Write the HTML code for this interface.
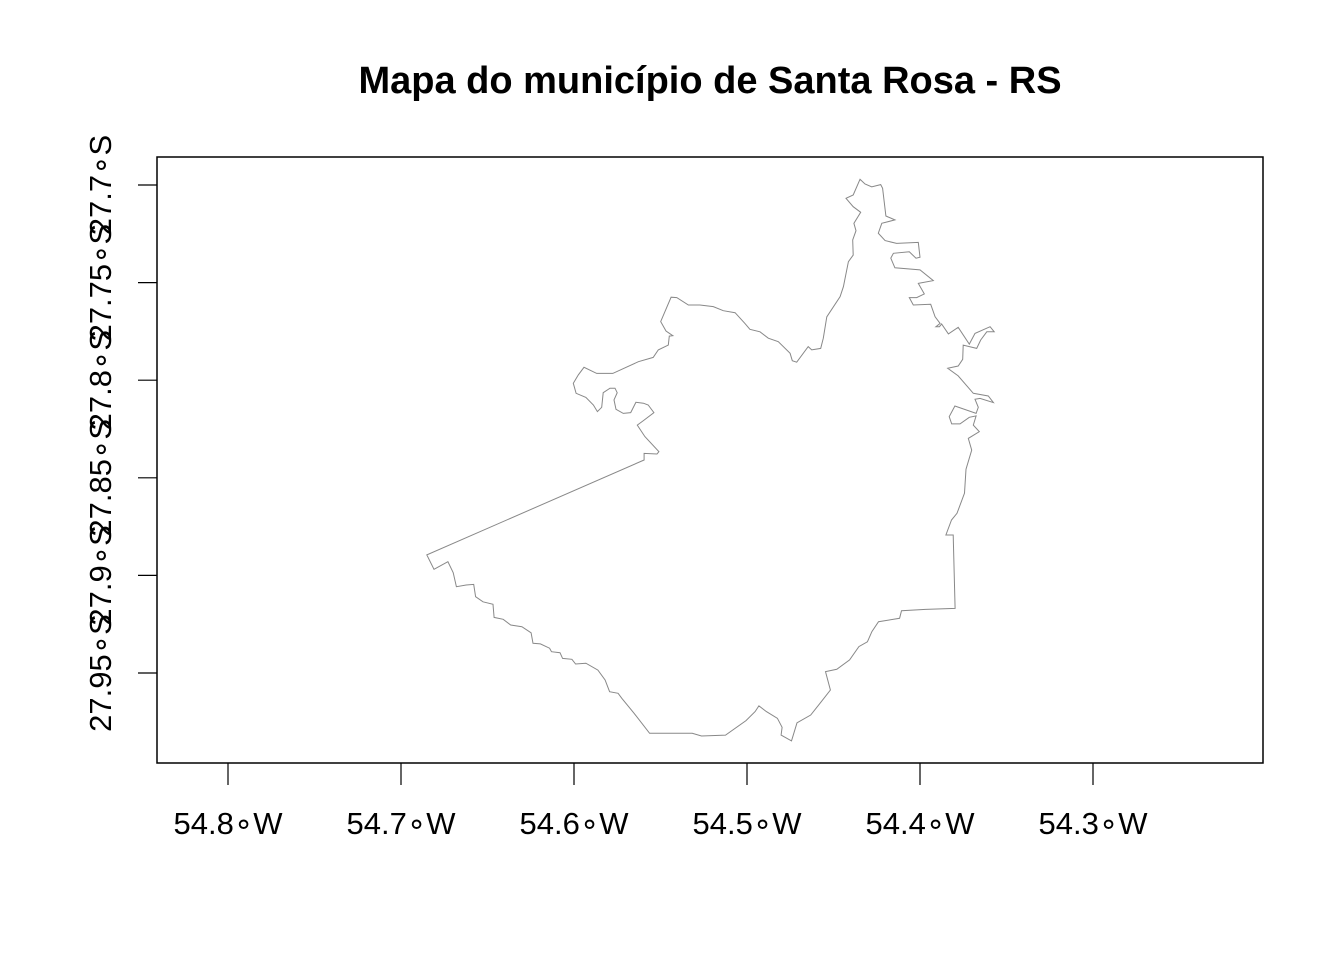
<!DOCTYPE html>
<html><head><meta charset="utf-8"><style>
html,body{margin:0;padding:0;background:#fff;}
svg{display:block;font-family:"Liberation Sans",Arial,sans-serif;}
</style></head><body>
<svg id="chart" width="1344" height="960" viewBox="0 0 1344 960" xmlns="http://www.w3.org/2000/svg">
<rect width="1344" height="960" fill="#fff"/>
<text x="710" y="93" text-anchor="middle" font-size="38" font-weight="bold">Mapa do município de Santa Rosa - RS</text>
<rect x="157" y="157" width="1106" height="606" fill="none" stroke="#000" stroke-width="1.5"/>
<g id="xaxis"></g>
<g id="yaxis"></g>
<path id="boundary" fill="none" stroke="#888" stroke-width="1"/>
</svg>
<script>
const xTicks=[-54.8,-54.7,-54.6,-54.5,-54.4,-54.3];
const xTickLabels=["54.8\u2218W","54.7\u2218W","54.6\u2218W","54.5\u2218W","54.4\u2218W","54.3\u2218W"];
const yTicks=[-27.7,-27.75,-27.8,-27.85,-27.9,-27.95];
const yTickLabels=["27.7\u2218S","27.75\u2218S","27.8\u2218S","27.85\u2218S","27.9\u2218S","27.95\u2218S"];
const lonW=[54.4347,54.4318,54.4279,54.4227,54.4216,54.4197,54.4145,54.4221,54.4241,54.4202,54.4135,54.4010,54.4000,54.4023,54.4062,54.4154,54.4169,54.4145,54.4000,54.3923,54.4010,54.3975,54.4019,54.4062,54.4039,54.3938,54.3913,54.3884,54.3908,54.3888,54.3875,54.3836,54.3779,54.3715,54.3682,54.3595,54.3571,54.3614,54.3649,54.3672,54.3750,54.3753,54.3779,54.3840,54.3779,54.3692,54.3605,54.3576,54.3653,54.3682,54.3663,54.3676,54.3798,54.3831,54.3817,54.3769,54.3715,54.3676,54.3692,54.3657,54.3721,54.3701,54.3734,54.3743,54.3786,54.3818,54.3850,54.3808,54.3797,54.3968,54.4107,54.4118,54.4240,54.4278,54.4304,54.4353,54.4407,54.4481,54.4546,54.4518,54.4578,54.4632,54.4711,54.4743,54.4803,54.4797,54.4824,54.4888,54.4931,54.4953,54.5006,54.5124,54.5263,54.5317,54.5563,54.5653,54.5723,54.5745,54.5794,54.5820,54.5862,54.5931,54.5991,54.6012,54.6066,54.6081,54.6130,54.6141,54.6194,54.6237,54.6248,54.6301,54.6366,54.6409,54.6462,54.6468,54.6526,54.6569,54.6580,54.6623,54.6680,54.6698,54.6729,54.6809,54.6851,54.5595,54.5595,54.5520,54.5509,54.5590,54.5634,54.5599,54.5538,54.5571,54.5599,54.5642,54.5672,54.5715,54.5757,54.5769,54.5750,54.5763,54.5792,54.5831,54.5840,54.5865,54.5888,54.5931,54.5988,54.6004,54.5975,54.5942,54.5869,54.5776,54.5628,54.5542,54.5513,54.5455,54.5449,54.5429,54.5468,54.5499,54.5439,54.5406,54.5339,54.5272,54.5195,54.5137,54.5069,54.5012,54.4983,54.4925,54.4877,54.4819,54.4751,54.4738,54.4713,54.4646,54.4626,54.4574,54.4559,54.4539,54.4462,54.4443,54.4414,54.4386,54.4389,54.4370,54.4382,54.4343,54.4386,54.4428,54.4386];
const latS=[27.6971,27.6995,27.7009,27.6998,27.7017,27.7159,27.7179,27.7196,27.7247,27.7285,27.7299,27.7294,27.7370,27.7375,27.7342,27.7350,27.7375,27.7424,27.7435,27.7490,27.7504,27.7558,27.7577,27.7577,27.7615,27.7611,27.7675,27.7709,27.7726,27.7726,27.7712,27.7763,27.7729,27.7815,27.7760,27.7726,27.7752,27.7752,27.7794,27.7837,27.7820,27.7893,27.7927,27.7939,27.7978,27.8067,27.8081,27.8115,27.8093,27.8098,27.8139,27.8170,27.8132,27.8187,27.8224,27.8224,27.8190,27.8183,27.8230,27.8264,27.8298,27.8358,27.8456,27.8579,27.8682,27.8716,27.8793,27.8793,27.9169,27.9174,27.9181,27.9220,27.9237,27.9288,27.9340,27.9365,27.9433,27.9481,27.9493,27.9587,27.9655,27.9715,27.9755,27.9848,27.9818,27.9778,27.9732,27.9698,27.9668,27.9698,27.9744,27.9818,27.9823,27.9809,27.9809,27.9706,27.9630,27.9604,27.9596,27.9536,27.9485,27.9450,27.9454,27.9430,27.9425,27.9396,27.9391,27.9373,27.9351,27.9348,27.9294,27.9263,27.9254,27.9225,27.9215,27.9148,27.9135,27.9109,27.9046,27.9049,27.9058,27.8986,27.8930,27.8969,27.8895,27.8409,27.8375,27.8378,27.8366,27.8289,27.8230,27.8207,27.8166,27.8127,27.8118,27.8113,27.8166,27.8170,27.8149,27.8101,27.8064,27.8041,27.8041,27.8064,27.8139,27.8161,27.8127,27.8088,27.8067,27.8016,27.7973,27.7934,27.7965,27.7965,27.7905,27.7883,27.7845,27.7820,27.7774,27.7772,27.7748,27.7700,27.7575,27.7577,27.7615,27.7615,27.7623,27.7644,27.7654,27.7709,27.7739,27.7752,27.7785,27.7803,27.7862,27.7900,27.7908,27.7828,27.7845,27.7837,27.7785,27.7675,27.7572,27.7521,27.7393,27.7359,27.7282,27.7234,27.7196,27.7140,27.7111,27.7068,27.7051];

const NS='http://www.w3.org/2000/svg';
function xScale(lon){return 228+(lon-(-54.8))/0.5*865;}
function yScale(lat){return 185+((-27.7)-lat)/0.25*488;}

const xa=document.getElementById('xaxis');
xTicks.forEach((t,i)=>{
  const x=xScale(t);
  const l=document.createElementNS(NS,'line');
  l.setAttribute('x1',x);l.setAttribute('x2',x);l.setAttribute('y1',763);l.setAttribute('y2',785);
  l.setAttribute('stroke','#000');l.setAttribute('stroke-width','1.2');
  
  
  xa.appendChild(l);
  const tx=document.createElementNS(NS,'text');
  tx.setAttribute('x',x);tx.setAttribute('y',834);tx.setAttribute('text-anchor','middle');tx.setAttribute('font-size','31');
  tx.textContent=xTickLabels[i];
  
  
  xa.appendChild(tx);
});
const ya=document.getElementById('yaxis');
yTicks.forEach((t,i)=>{
  const y=yScale(t);
  const l=document.createElementNS(NS,'line');
  l.setAttribute('x1',138);l.setAttribute('x2',157);l.setAttribute('y1',y);l.setAttribute('y2',y);
  l.setAttribute('stroke','#000');l.setAttribute('stroke-width','1.2');
  
  
  ya.appendChild(l);
  const tx=document.createElementNS(NS,'text');
  tx.setAttribute('transform','translate(111,'+y+') rotate(-90)');
  tx.setAttribute('text-anchor','middle');tx.setAttribute('font-size','31');
  tx.textContent=yTickLabels[i];
  
  
  ya.appendChild(tx);
});
let d='';
lonW.forEach((w,i)=>{d+=(i?'L':'M')+xScale(-w).toFixed(1)+','+yScale(-latS[i]).toFixed(1);});
d+='Z';
document.getElementById('boundary').setAttribute('d',d);
</script>
</body></html>
